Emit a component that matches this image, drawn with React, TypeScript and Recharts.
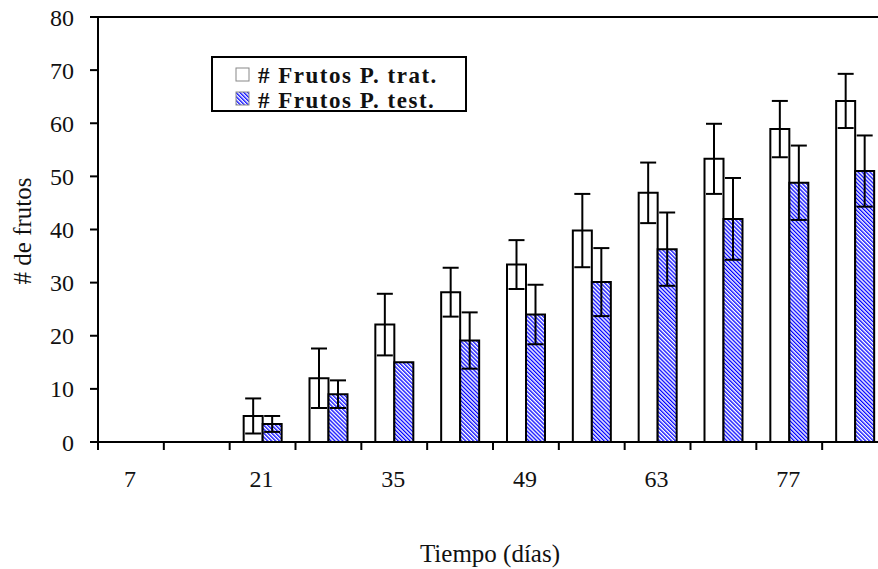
import { BarChart, Bar, XAxis, YAxis, ErrorBar, ReferenceLine } from "recharts"

const dias = ["7", "14", "21", "28", "35", "42", "49", "56", "63", "70", "77", "84"]
const trat = [0, 0, 4.9, 12.0, 22.1, 28.2, 33.4, 39.8, 46.9, 53.3, 58.9, 64.2]
const tratErr = [0, 0, 3.3, 5.6, 5.8, 4.6, 4.6, 6.9, 5.7, 6.6, 5.3, 5.1]
const test = [0, 0, 3.4, 9.0, 15.0, 19.1, 24.0, 30.1, 36.3, 42.0, 48.8, 51.0]
const testErr = [0, 0, 1.5, 2.6, 0, 5.3, 5.6, 6.4, 6.9, 7.7, 7.0, 6.7]
const yTicks = [0, 10, 20, 30, 40, 50, 60, 70, 80]
const seriesNames = ["# Frutos P. trat.", "# Frutos P. test."]

const data = dias.map((d, i) => ({
  dia: d,
  trat: trat[i],
  tratErr: tratErr[i],
  test: test[i],
  testErr: testErr[i],
}))

const SERIF = "'Liberation Serif', 'Times New Roman', serif"
const LEFT = 98
const TOP = 17
const BOTTOM = 442
const PLOT_W = 790

function XTick(props: any) {
  const { x, payload, index } = props
  const band = PLOT_W / dias.length
  const left = x - band / 2
  return (
    <g>
      <line x1={left} y1={BOTTOM} x2={left} y2={BOTTOM + 8} stroke="#000" strokeWidth={2} />
      {index % 2 === 0 && (
        <text x={x - 1} y={BOTTOM + 45} textAnchor="middle" fontFamily={SERIF} fontSize={24} fill="#111">
          {payload.value}
        </text>
      )}
    </g>
  )
}

export default function App() {
  return (
    <div style={{ position: "absolute", left: 0, top: 0, width: 878, height: 569, overflow: "hidden", background: "#fff" }}>
      <BarChart
        width={900}
        height={569}
        data={data}
        margin={{ top: TOP, right: 900 - LEFT - PLOT_W, bottom: 569 - BOTTOM - 60, left: 0 }}
        barGap={0}
        barSize={19}
      >
        <defs>
          <pattern id="hatch" width="2.8" height="4" patternUnits="userSpaceOnUse" patternTransform="rotate(-45)">
            <rect width="2.8" height="4" fill="#fff" />
            <rect width="1.3" height="4" fill="#0000ff" />
          </pattern>
        </defs>
        <XAxis
          dataKey="dia"
          height={60}
          interval={0}
          tickLine={false}
          axisLine={{ stroke: "#000", strokeWidth: 2 }}
          tick={<XTick />}
        />
        <YAxis
          width={LEFT}
          domain={[0, 80]}
          ticks={yTicks}
          interval={0}
          tickSize={8}
          tickMargin={16}
          axisLine={{ stroke: "#000", strokeWidth: 2 }}
          tickLine={{ stroke: "#000", strokeWidth: 2 }}
          tick={{ fontFamily: SERIF, fontSize: 24, fill: "#111" }}
        />
        <ReferenceLine y={80} stroke="#000" strokeWidth={2} />
        <Bar dataKey="trat" name={seriesNames[0]} fill="#fff" stroke="#000" strokeWidth={2} isAnimationActive={false}>
          <ErrorBar dataKey="tratErr" width={8} stroke="#000" strokeWidth={2} direction="y" />
        </Bar>
        <Bar dataKey="test" name={seriesNames[1]} fill="url(#hatch)" stroke="#000" strokeWidth={2} isAnimationActive={false}>
          <ErrorBar dataKey="testErr" width={8} stroke="#000" strokeWidth={2} direction="y" />
        </Bar>
      </BarChart>
      <svg width={878} height={569} style={{ position: "absolute", left: 0, top: 0, pointerEvents: "none" }}>
        <text
          transform="translate(31,231) rotate(-90)"
          textAnchor="middle"
          fontFamily={SERIF}
          fontSize={25}
          fill="#111"
        >
          # de frutos
        </text>
        <text x={490} y={562} textAnchor="middle" fontFamily={SERIF} fontSize={25} fill="#111">
          Tiempo (días)
        </text>
        <rect x={212} y={57} width={254} height={54} fill="#fff" stroke="#000" strokeWidth={2} />
        <rect x={236} y={68} width={13} height={13} fill="#fff" stroke="#888" strokeWidth={1} />
        <text x={258} y={83} fontFamily={SERIF} fontWeight="bold" fontSize={23} letterSpacing={1.5} fill="#111">
          {seriesNames[0]}
        </text>
        <rect x={236} y={92} width={13} height={13} fill="url(#hatch)" stroke="#888" strokeWidth={1} />
        <text x={258} y={108} fontFamily={SERIF} fontWeight="bold" fontSize={23} letterSpacing={1.5} fill="#111">
          {seriesNames[1]}
        </text>
        <line x1={212} y1={111} x2={466} y2={111} stroke="#000" strokeWidth={2} />
      </svg>
    </div>
  )
}
